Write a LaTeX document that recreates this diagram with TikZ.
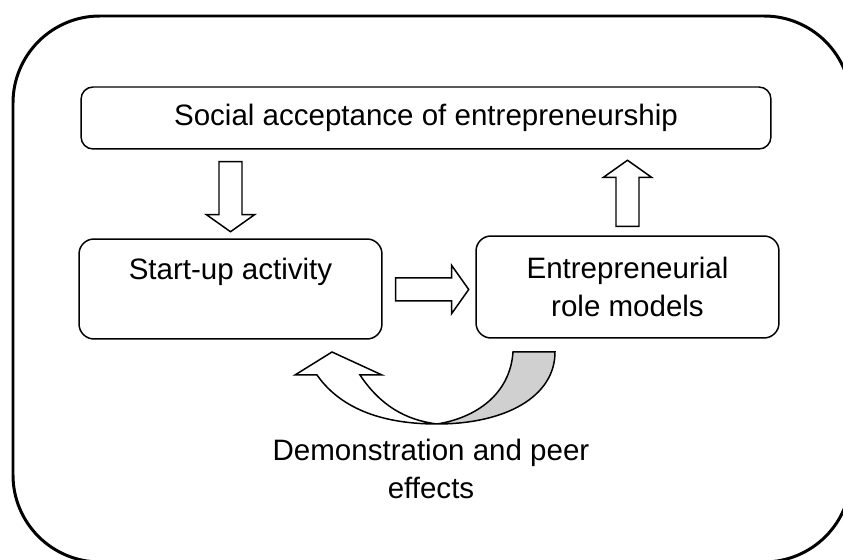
\documentclass[tikz,border=0pt]{standalone}
\usepackage{fontspec}
\setmainfont{Liberation Sans}
\usetikzlibrary{calc}

\tikzset{
  box/.style={draw, line width=0.85pt, rounded corners=0.3cm, align=center},
  txt/.style={font=\fontsize{16.8}{21.5}\selectfont, align=center},
  blkline/.style={draw, line width=0.85pt, fill=white, line join=miter},
  % 空心方块箭头, #1 为箭头长度
  pics/blkarrow/.style={code={
    \path[blkline] (0,-11.5) -- (#1-17,-11.5) -- (#1-17,-24) -- (#1,0)
                   -- (#1-17,24) -- (#1-17,11.5) -- (0,11.5) -- cycle;
  }}
}
\definecolor{shade}{RGB}{208,208,208}

\begin{document}
\begin{tikzpicture}[x=0.02cm, y=-0.02cm] % 以像素为单位, y 轴向下
  \useasboundingbox (0,0) rectangle (843,560);
  \clip (0,0) rectangle (843,560);
  \draw[line width=1.7pt, rounded corners=1.74cm] (13,16) rectangle (851,562); % 外框

  \node[box, txt, minimum width=13.8cm, minimum height=1.24cm, rounded corners=0.24cm]
       (social) at (426,118) {Social acceptance of entrepreneurship};
  \node[box, minimum width=6.06cm, minimum height=2cm] (start) at (230.5,289) {};
  \node[txt] (starttxt) at ($(start.center)+(0,-17)$) {Start-up activity};
  \node[box, txt, minimum width=6.06cm, minimum height=2.04cm]
       (models) at (627.5,287) {Entrepreneurial\\role models};

  % 三个方块箭头
  \coordinate (dtop) at ($(start.north |- social.south)+(0,12)$);
  \coordinate (rbeg) at ($(start.east)+(13,0.5)$);
  \coordinate (ubeg) at ($(models.north)+(0,-9)$);
  \pic[rotate=-90] at (dtop) {blkarrow=70};
  \pic at (rbeg) {blkarrow=73};
  \pic[rotate=90] at (ubeg) {blkarrow=66};

  % 弯曲的返回箭头
  \draw[line width=0.85pt, fill=shade]
    (513,352) -- (555,352) .. controls (555,397) and (505,424) .. (437,424)
    .. controls (475,418) and (510,395) .. (513,352) -- cycle;
  \draw[line width=0.85pt, fill=white, line join=miter]
    (360,375) -- (382,375) -- (332,352) -- (295,375) -- (317,375)
    .. controls (345,415) and (395,424) .. (437,424)
    .. controls (405,420) and (380,405) .. (360,375) -- cycle;

  \node[txt] (effects) at (431,469) {Demonstration and peer\\effects};
\end{tikzpicture}
\end{document}
